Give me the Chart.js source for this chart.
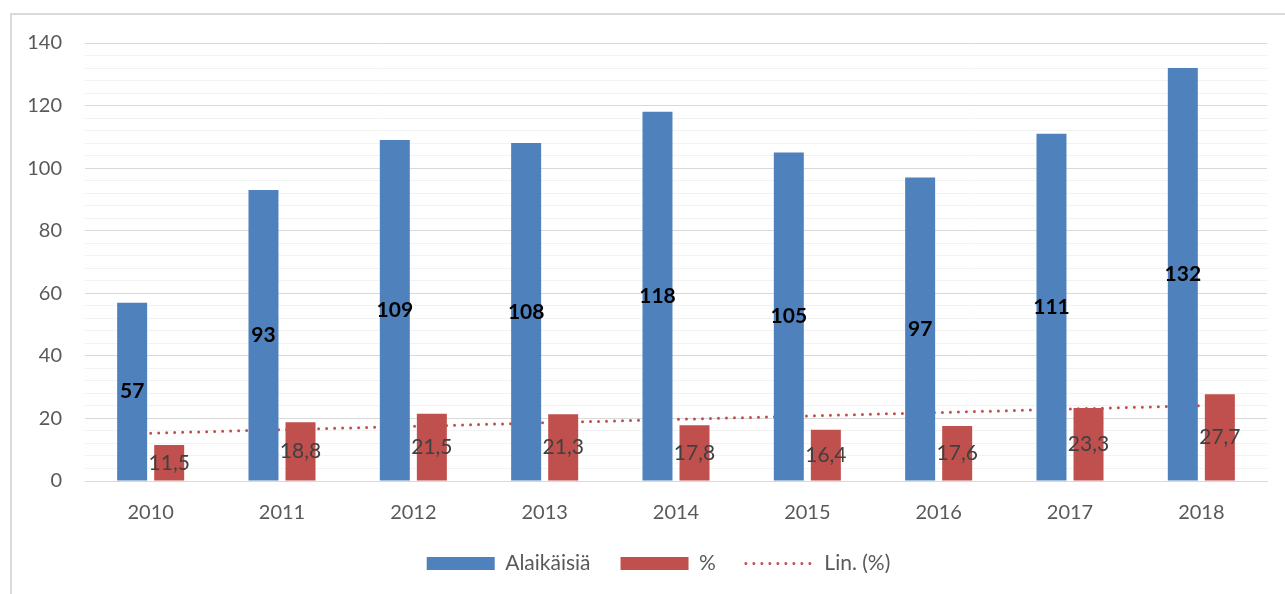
<!DOCTYPE html>
<html>
<head>
<meta charset="utf-8">
<script src="https://cdn.jsdelivr.net/npm/chart.js@4/dist/chart.umd.min.js"></script>
<style>
  body { margin: 0; background: #fff; }
  #frame { position: absolute; left: 10px; top: 13px; width: 1300px; height: 620px; border: 2px solid #d9d9d9; box-sizing: border-box; }
  #wrap { position: absolute; left: 0; top: 0; width: 1285px; height: 594px; }
</style>
</head>
<body>
<div id="frame"></div>
<div id="wrap"><canvas id="chart" width="1285" height="594"></canvas></div>
<script>
// values
const years = ['2010', '2011', '2012', '2013', '2014', '2015', '2016', '2017', '2018'];
const alaikaisia = [57, 93, 109, 108, 118, 105, 97, 111, 132];
const percent = [11.5, 18.8, 21.5, 21.3, 17.8, 16.4, 17.6, 23.3, 27.7];
const trend = [15.3, null, null, null, null, null, null, null, 24.1];

const blue = '#4f81bd';
const red = '#c0504d';
const fontName = 'Lato, "Open Sans", sans-serif';

// labels in the middle of each bar
const barLabels = {
    id: 'barLabels',
    afterDatasetsDraw(chart) {
        const ctx = chart.ctx;
        ctx.save();
        ctx.textAlign = 'center';
        ctx.textBaseline = 'middle';
        [0, 1].forEach(function(i) {
            const meta = chart.getDatasetMeta(i);
            const values = chart.data.datasets[i].data;
            if (i === 0) {
                ctx.font = 'bold 21px ' + fontName;
                ctx.fillStyle = '#000000';
            } else {
                ctx.font = '21px ' + fontName;
                ctx.fillStyle = '#404040';
            }
            meta.data.forEach(function(bar, j) {
                const y = (bar.y + bar.base) / 2;
                ctx.fillText(String(values[j]).replace('.', ','), bar.x, y);
            });
        });
        ctx.restore();
    }
};

// legend sits a bit right of the canvas centre in the original
const legendShift = {
    id: 'legendShift',
    afterLayout(chart) {
        chart.legend.left += 25;
        chart.legend.right += 25;
    }
};

new Chart(document.getElementById('chart'), {
    type: 'bar',
    data: {
        labels: years,
        datasets: [{
            label: 'Alaikäisiä',
            data: alaikaisia,
            backgroundColor: blue,
            borderWidth: 0,
            pointStyle: 'rect',
            order: 1
        }, {
            label: '%',
            data: percent,
            backgroundColor: red,
            borderWidth: 0,
            pointStyle: 'rect',
            order: 2
        }, {
            type: 'line',
            label: 'Lin. (%)',
            data: trend,
            spanGaps: true,
            borderColor: red,
            backgroundColor: red,
            borderWidth: 3,
            borderDash: [0, 8],
            borderCapStyle: 'round',
            pointRadius: 0,
            pointStyle: 'line',
            order: 3
        }]
    },
    options: {
        responsive: false,
        animation: false,
        devicePixelRatio: 1,
        categoryPercentage: 0.564,
        barPercentage: 0.81,
        layout: {
            padding: { left: 0, right: 18, top: 43, bottom: 10 }
        },
        scales: {
            x: {
                afterFit: function(scale) { scale.height = 42; },
                grid: { display: false, drawTicks: false },
                border: { color: '#d9d9d9', width: 1 },
                ticks: {
                    color: '#595959',
                    font: { family: fontName, size: 20 },
                    padding: 20
                }
            },
            y: {
                min: 0,
                max: 140,
                afterFit: function(scale) { scale.width = 85; },
                border: { display: false },
                grid: {
                    drawTicks: false,
                    color: function(c) {
                        return c.tick && c.tick.value % 20 === 0 ? '#d9d9d9' : '#f2f2f2';
                    },
                    lineWidth: 1
                },
                ticks: {
                    stepSize: 4,
                    autoSkip: false,
                    color: '#595959',
                    font: { family: fontName, size: 20 },
                    padding: 23,
                    callback: function(v) { return v % 20 === 0 ? v : ''; }
                }
            }
        },
        plugins: {
            legend: {
                position: 'bottom',
                labels: {
                    usePointStyle: true,
                    pointStyleWidth: 68,
                    boxWidth: 68,
                    boxHeight: 13,
                    padding: 30,
                    color: '#595959',
                    font: { family: fontName, size: 21 },
                    generateLabels: function(chart) {
                        const items = Chart.defaults.plugins.legend.labels.generateLabels(chart);
                        items.forEach(function(item) {
                            const ds = chart.data.datasets[item.datasetIndex];
                            if (ds.type === 'line') {
                                item.lineDash = ds.borderDash;
                                item.lineCap = ds.borderCapStyle;
                                item.lineWidth = ds.borderWidth;
                                item.strokeStyle = ds.borderColor;
                            } else {
                                item.lineWidth = 0;
                            }
                        });
                        return items;
                    }
                }
            },
            tooltip: { enabled: false }
        }
    },
    plugins: [barLabels, legendShift]
});
</script>
</body>
</html>
